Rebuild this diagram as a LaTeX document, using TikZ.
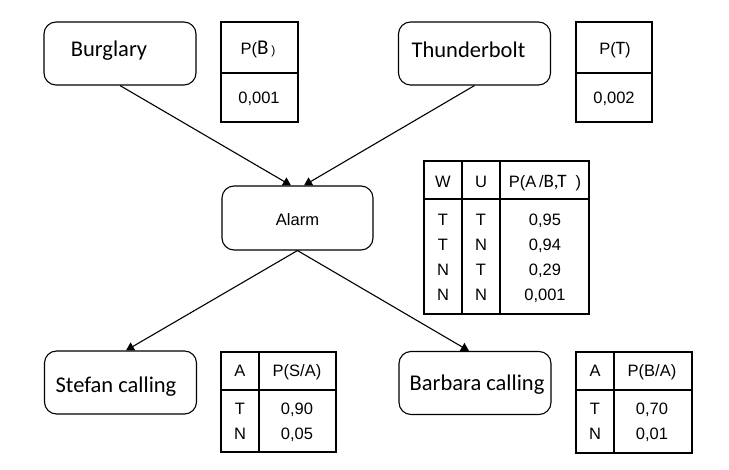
\documentclass[tikz,border=0pt]{standalone}
\usepackage{fontspec}
\setmainfont{Liberation Sans}
\newfontfamily\calib{Carlito}
\usetikzlibrary{arrows.meta}

\begin{document}
\begin{tikzpicture}[x=1pt,y=-1pt,
    event/.style={draw,line width=1.1pt,rounded corners=12pt,minimum width=152pt,minimum height=63pt,inner sep=0pt},
    evtext/.style={anchor=base,inner sep=0pt,font=\calib\fontsize{22.5}{27}\selectfont},
    cell/.style={anchor=base,inner sep=0pt,font=\fontsize{16.5}{19}\selectfont},
    tab/.style={line width=1.8pt},
    edge/.style={line width=1.1pt,-{Triangle[width=9pt,length=8pt]}}]
    \useasboundingbox (0,0) rectangle (729,470);
    %events
    \node[event] (burglary) at (120,53.5) {};
    \node[evtext] (burglarytxt) at (109,56.7) {Burglary};
    \node[event] (thunder) at (474.5,53.5) {};
    \node[evtext] (thundertxt) at (468.5,58) {Thunderbolt};
    \node[event,minimum width=151pt,minimum height=64pt] (alarm) at (297.5,218) {};
    \node[cell] (alarmtxt) at (297.5,225.7) {Alarm};
    \node[event] (stefan) at (120.5,382.5) {};
    \node[evtext] (stefantxt) at (116,392.7) {Stefan calling};
    \node[event] (barbara) at (475,383) {};
    \node[evtext] (barbaratxt) at (477,390.7) {Barbara calling};
    %arrows
    \draw[edge] (burglary.south) -- ([xshift=-6.5pt]alarm.north);
    \draw[edge] (thunder.south) -- ([xshift=6.5pt]alarm.north);
    \draw[edge] (alarm.south) -- ([xshift=5.5pt]stefan.north);
    \draw[edge] (alarm.south) -- ([xshift=-6pt]barbara.north);
    %P(B)
    \draw[tab] (221,22) rectangle (298,122);
    \draw[tab] (221,73) -- (298,73);
    \node[cell] (pb) at (258,54.3) {P({\calib\fontsize{21}{21}\selectfont B}\,{\fontsize{12}{12}\selectfont )}};
    \node[cell] (pbval) at (259,104) {0,001};
    %P(T)
    \draw[tab] (576,22) rectangle (652,122);
    \draw[tab] (576,73) -- (652,73);
    \node[cell] (pt) at (615,54.3) {P({\calib\fontsize{19}{19}\selectfont T})};
    \node[cell] (ptval) at (614,104) {0,002};
    %P(A/B,T)
    \draw[tab] (424,161) rectangle (589,314);
    \draw[tab] (424,199) -- (589,199);
    \draw[tab] (462,161) -- (462,314);
    \draw[tab] (500,161) -- (500,314);
    \node[cell] (hw) at (443,187.7) {W};
    \node[cell] (hu) at (481,187.7) {U};
    \node[cell] (hpa) at (545,187.7) {P(A\,/{\calib\fontsize{19}{19}\selectfont B,T}\ \ )};
    \foreach \w/\u/\p/\y in {T/T/0{,}95/225.3, T/N/0{,}94/250.7, N/T/0{,}29/276, N/N/0{,}001/301}{
        \node[cell] (w\y) at (443,\y) {\w};
        \node[cell] (u\y) at (481,\y) {\u};
        \node[cell] (p\y) at (545,\y) {\p};
    }
    %P(S/A)
    \draw[tab] (221,352) rectangle (336,452);
    \draw[tab] (221,390) -- (336,390);
    \draw[tab] (259,352) -- (259,452);
    \node[cell] (sa) at (240,377) {A};
    \node[cell] (sp) at (297,377) {P(S/A)};
    \node[cell] (st) at (240,415) {T};
    \node[cell] (stv) at (297,415) {0,90};
    \node[cell] (sn) at (240,440) {N};
    \node[cell] (snv) at (297,440) {0,05};
    %P(B/A)
    \draw[tab] (576,352) rectangle (692,453);
    \draw[tab] (576,390) -- (692,390);
    \draw[tab] (614,352) -- (614,453);
    \node[cell] (ba) at (595,377) {A};
    \node[cell] (bp) at (652,377) {P(B/A)};
    \node[cell] (bt) at (595,415) {T};
    \node[cell] (btv) at (652,415) {0,70};
    \node[cell] (bn) at (595,440) {N};
    \node[cell] (bnv) at (652,440) {0,01};
\end{tikzpicture}
\end{document}
